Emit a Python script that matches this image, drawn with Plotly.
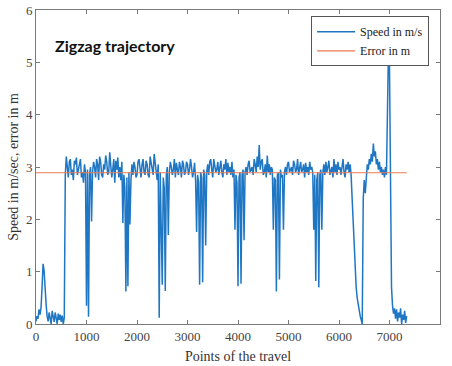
import plotly.graph_objects as go

# Speed samples, one every 20 travel points (0 ... 7340)
speed = [
    0.05, 0.15, 0.10, 0.28, 0.18, 0.32, 0.70, 1.15, 1.02, 0.60,
    0.38, 0.15, 0.05, 0.22, 0.10, 0.00, 0.25, 0.12, 0.04, 0.22,
    0.10, 0.00, 0.20, 0.08, 0.18, 0.04, 0.16, 0.00, 0.12, 2.85,
    3.20, 3.05, 2.80, 3.10, 3.15, 2.85, 2.95, 2.75, 3.12, 3.05,
    3.18, 2.85, 2.95, 3.10, 3.15, 2.80, 2.90, 2.70, 3.05, 2.90,
    0.35, 2.95, 0.14, 2.85, 3.00, 1.96, 2.90, 3.10, 3.00, 2.80,
    3.15, 3.05, 2.75, 3.20, 3.10, 2.85, 2.80, 3.05, 2.95, 3.22,
    3.10, 2.85, 2.90, 3.28, 3.05, 2.80, 2.95, 3.15, 2.70, 3.12,
    2.95, 3.18, 2.80, 3.00, 2.75, 3.10, 1.93, 2.85, 2.60, 0.62,
    2.80, 0.72, 2.90, 1.90, 2.75, 3.05, 2.85, 3.10, 3.00, 2.80,
    2.85, 3.10, 3.15, 2.95, 2.80, 3.05, 3.15, 2.90, 2.85, 3.12,
    3.05, 2.85, 2.80, 3.20, 3.10, 2.95, 2.85, 3.25, 3.05, 2.90,
    2.75, 3.05, 0.12, 2.90, 1.90, 0.75, 2.80, 2.60, 0.63, 2.85,
    3.00, 1.70, 2.90, 3.10, 3.00, 2.85, 2.95, 3.15, 2.80, 3.08,
    2.95, 2.85, 3.10, 3.00, 2.80, 3.12, 3.05, 2.85, 2.90, 3.10,
    3.05, 2.85, 2.95, 3.15, 3.00, 2.80, 2.90, 3.08, 2.75, 1.76,
    2.85, 2.70, 0.75, 2.90, 2.80, 0.80, 2.95, 2.85, 1.50, 2.90,
    3.05, 2.85, 3.10, 3.15, 2.95, 2.80, 3.15, 3.00, 2.90, 2.95,
    3.10, 2.85, 3.00, 3.12, 2.90, 2.80, 3.05, 2.95, 3.15, 2.85,
    3.08, 2.90, 3.00, 2.85, 3.10, 2.80, 2.95, 1.80, 2.85, 2.70,
    0.72, 2.80, 2.90, 0.77, 2.85, 2.95, 1.60, 2.90, 3.00, 2.85,
    3.05, 3.12, 2.90, 2.95, 3.00, 2.85, 3.15, 3.05, 2.90, 3.20,
    3.00, 3.42, 2.95, 3.10, 3.15, 2.85, 2.90, 3.05, 2.80, 3.22,
    2.90, 3.05, 2.85, 3.00, 2.95, 1.80, 2.80, 2.75, 0.62, 2.85,
    2.90, 0.85, 2.95, 2.80, 2.85, 1.80, 2.90, 3.00, 2.85, 3.05,
    3.10, 2.90, 2.95, 3.00, 2.85, 3.12, 3.05, 2.90, 2.95, 3.15,
    2.85, 3.00, 3.10, 2.90, 2.95, 3.05, 2.80, 3.08, 2.90, 3.00,
    2.85, 3.10, 2.95, 3.00, 2.90, 1.80, 2.85, 0.82, 2.75, 2.90,
    0.70, 2.85, 2.95, 1.80, 2.90, 3.05, 2.85, 3.10, 2.90, 3.00,
    3.12, 2.85, 2.95, 3.00, 2.80, 3.15, 2.90, 3.05, 2.85, 3.10,
    2.95, 3.00, 2.85, 3.08, 3.15, 2.90, 2.80, 3.05, 2.95, 3.10,
    2.90, 3.05, 2.85, 2.40, 2.00, 1.50, 1.00, 0.70, 0.50, 0.35,
    0.25, 0.15, 0.08, 0.00, 2.40, 2.75, 2.50, 2.90, 3.05, 2.95,
    3.15, 3.05, 3.25, 3.10, 3.45, 3.20, 3.30, 3.05, 3.15, 2.95,
    3.10, 2.90, 3.00, 2.85, 2.95, 2.80, 3.00, 2.85, 4.60, 5.30,
    4.90, 2.60, 0.70, 0.35, 0.20, 0.30, 0.10, 0.28, 0.05, 0.22,
    0.12, 0.30, 0.00, 0.18, 0.08, 0.25, 0.02, 0.15,
]
sample_step = 20
points = [i * sample_step for i in range(len(speed))]

error_value = 2.89
error_x = [points[0], points[-1]]
error_y = [error_value, error_value]

x_ticks = [0, 1000, 2000, 3000, 4000, 5000, 6000, 7000, 8000]
y_ticks = [0, 1, 2, 3, 4, 5, 6]

serif = "Liberation Serif"

fig = go.Figure()
fig.add_trace(go.Scatter(x=points, y=speed, mode="lines", name="Speed in m/s",
                         line=dict(color="#1f77c4", width=1.5)))
fig.add_trace(go.Scatter(x=error_x, y=error_y, mode="lines", name="Error in m",
                         line=dict(color="#ec7a52", width=1.2)))

axis_common = dict(showline=True, linecolor="#7a7a7a", linewidth=1, mirror="ticks",
                   ticks="inside", ticklen=4, tickcolor="#7a7a7a", showgrid=False,
                   zeroline=False, automargin=False,
                   tickfont=dict(family=serif, size=13, color="#444"))

fig.update_layout(
    width=452, height=366,
    margin=dict(l=36, r=12, t=10, b=42),
    font=dict(family=serif, size=13, color="#333"),
    plot_bgcolor="white", paper_bgcolor="white",
    xaxis=dict(range=[0, 8000], tickvals=x_ticks, **axis_common,
               title=dict(text="Points of the travel", font=dict(family=serif, size=14, color="#333"),
                          standoff=8)),
    yaxis=dict(range=[0, 6], tickvals=y_ticks, **axis_common,
               title=dict(text="Speed in m/sec, error in m", font=dict(family=serif, size=14, color="#333"),
                          standoff=4)),
    legend=dict(x=0.973, y=0.98, xanchor="right", yanchor="top",
                bgcolor="white", bordercolor="#555", borderwidth=1,
                font=dict(family=serif, size=12, color="#222"),
                tracegroupgap=0, itemwidth=38),
    showlegend=True,
    annotations=[dict(text="<b>Zigzag trajectory</b>", xref="x", yref="y", x=330, y=5.33,
                      xanchor="left", yanchor="middle", showarrow=False,
                      font=dict(family="Lato", size=16, color="#111"))],
)

fig.write_html("out.html")
